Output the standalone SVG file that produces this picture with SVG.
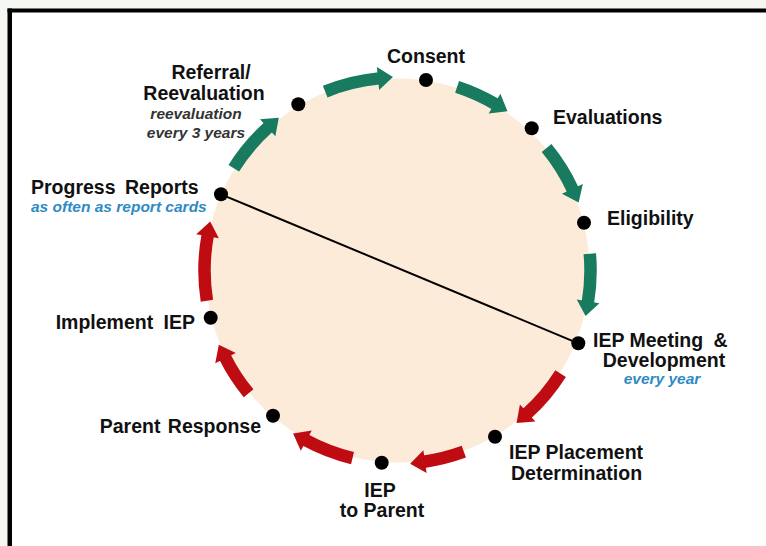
<svg xmlns="http://www.w3.org/2000/svg" width="766" height="546" viewBox="0 0 766 546">
  <style>
    .lbl { font-family: "Liberation Sans", Arial, sans-serif; font-weight: bold; font-size: 19.5px; fill: #111; }
    .sub { font-family: "Liberation Sans", Arial, sans-serif; font-weight: bold; font-style: italic; font-size: 15.5px; fill: #333; }
    .blue { fill: #2f8ac4; }
    .dot { fill: #000; }
    .g { fill: none; stroke: #187a5e; stroke-width: 12.5; }
    .r { fill: none; stroke: #bf0b12; stroke-width: 12.5; }
  </style>
  <defs>
    <marker id="hg" markerUnits="userSpaceOnUse" markerWidth="16" markerHeight="24" refX="1" refY="12" orient="auto" overflow="visible">
      <path d="M0,0.5 L15,12 L0,23.5 z" fill="#187a5e"/>
    </marker>
    <marker id="hr" markerUnits="userSpaceOnUse" markerWidth="16" markerHeight="24" refX="1" refY="12" orient="auto" overflow="visible">
      <path d="M0,0.5 L15,12 L0,23.5 z" fill="#bf0b12"/>
    </marker>
  </defs>

  <!-- background and frame -->
  <rect x="0" y="0" width="766" height="546" fill="#f4f7f2"/>
  <rect x="10" y="10" width="756" height="536" fill="#ffffff"/>
  <rect x="7.5" y="8.5" width="758.5" height="4" fill="#000"/>
  <rect x="7.5" y="8.5" width="4.5" height="537.5" fill="#000"/>

  <!-- cycle disc -->
  <circle cx="397.5" cy="270.5" r="192" fill="#fcebd8"/>

  <g id="connectors">
    <line x1="221" y1="194.3" x2="578.3" y2="343.3" stroke="#000" stroke-width="2"/>
    <path class="g" marker-end="url(#hg)" d="M233.8,168.2 A193,193 0 0 1 268.4,127.1"/>
    <path class="g" marker-end="url(#hg)" d="M325.2,91.6 A193,193 0 0 1 379.0,78.4"/>
    <path class="g" marker-end="url(#hg)" d="M457.1,86.9 A193,193 0 0 1 495.4,104.2"/>
    <path class="g" marker-end="url(#hg)" d="M546.6,148.0 A193,193 0 0 1 572.8,189.8"/>
    <path class="g" marker-end="url(#hg)" d="M589.8,253.7 A193,193 0 0 1 587.9,302.3"/>
    <path class="r" marker-end="url(#hr)" d="M560.6,373.6 A193,193 0 0 1 526.9,413.7"/>
    <path class="r" marker-end="url(#hr)" d="M463.8,451.7 A193,193 0 0 1 424.0,461.7"/>
    <path class="r" marker-end="url(#hr)" d="M352.5,458.2 A193,193 0 0 1 305.4,440.1"/>
    <path class="r" marker-end="url(#hr)" d="M248.6,393.3 A193,193 0 0 1 225.1,357.2"/>
    <path class="r" marker-end="url(#hr)" d="M206.9,300.7 A193,193 0 0 1 207.7,235.3"/>
  </g>

  <g id="referral">
    <circle class="dot" cx="298.3" cy="104.3" r="7"/>
    <text class="lbl" x="211" y="79" text-anchor="middle">Referral/</text>
    <text class="lbl" x="204" y="100" text-anchor="middle">Reevaluation</text>
    <text class="sub" x="196" y="119" text-anchor="middle">reevaluation</text>
    <text class="sub" x="196" y="138" text-anchor="middle">every 3 years</text>
  </g>

  <g id="consent">
    <circle class="dot" cx="426" cy="80" r="7"/>
    <text class="lbl" x="387" y="63">Consent</text>
  </g>

  <g id="evaluations">
    <circle class="dot" cx="531.7" cy="128.3" r="7"/>
    <text class="lbl" x="553" y="124">Evaluations</text>
  </g>

  <g id="eligibility">
    <circle class="dot" cx="584" cy="222.7" r="7"/>
    <text class="lbl" x="607" y="225">Eligibility</text>
  </g>

  <g id="iep-meeting">
    <circle class="dot" cx="578.3" cy="343.3" r="7"/>
    <text class="lbl" x="593" y="347">IEP Meeting <tspan dx="5">&amp;</tspan></text>
    <text class="lbl" x="664" y="367" text-anchor="middle">Development</text>
    <text class="sub blue" x="662" y="384" text-anchor="middle">every year</text>
  </g>

  <g id="iep-placement">
    <circle class="dot" cx="495" cy="436.7" r="7"/>
    <text class="lbl" x="509" y="459">IEP Placement</text>
    <text class="lbl" x="511" y="480">Determination</text>
  </g>

  <g id="iep-to-parent">
    <circle class="dot" cx="381.7" cy="462.7" r="7"/>
    <text class="lbl" x="380" y="497" text-anchor="middle">IEP</text>
    <text class="lbl" x="382" y="517" text-anchor="middle">to Parent</text>
  </g>

  <g id="parent-response">
    <circle class="dot" cx="273" cy="415.7" r="7"/>
    <text class="lbl" x="261" y="433" text-anchor="end" word-spacing="2">Parent Response</text>
  </g>

  <g id="implement-iep">
    <circle class="dot" cx="210.7" cy="317.7" r="7"/>
    <text class="lbl" x="195" y="329" text-anchor="end">Implement <tspan dx="5">IEP</tspan></text>
  </g>

  <g id="progress-reports">
    <circle class="dot" cx="221" cy="194.3" r="7"/>
    <text class="lbl" x="31" y="194" word-spacing="4">Progress Reports</text>
    <text class="sub blue" x="31" y="212">as often as report cards</text>
  </g>
</svg>
